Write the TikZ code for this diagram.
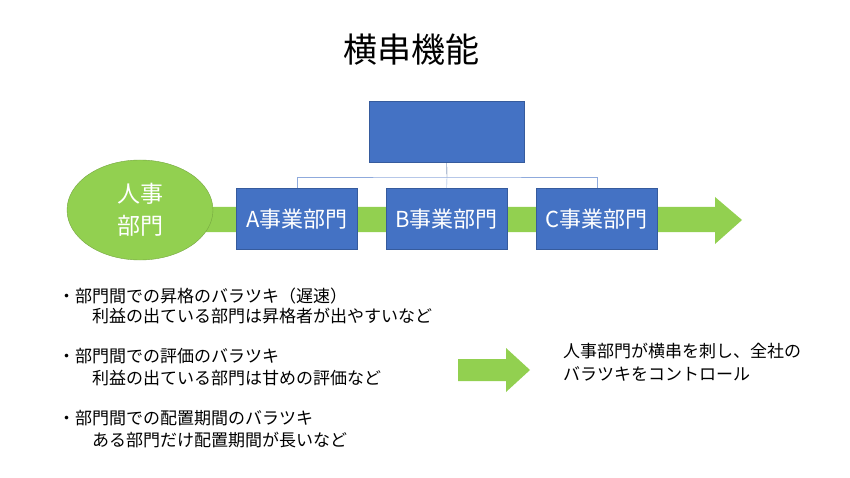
\documentclass[tikz,border=0pt]{standalone}
\usepackage{fontspec}
\setmainfont{Noto Sans CJK JP}
\usetikzlibrary{shapes.geometric}
\definecolor{bl}{HTML}{4472C4}
\definecolor{gr}{HTML}{92D050}
\definecolor{ln}{HTML}{8FAADC}
\begin{document}
\begin{tikzpicture}[x=1pt,y=-1pt,
 box/.style={draw=bl!80!black,fill=bl,text=white,minimum width=121pt,minimum height=61pt,inner sep=0pt,font=\fontsize{22}{26}\selectfont,anchor=north west},
 txt/.style={anchor=west,inner sep=0pt,font=\fontsize{17}{20}\selectfont}]
\useasboundingbox (0,0) rectangle (850,478);
\fill[white] (0,0) rectangle (850,478);
\node[font=\fontsize{34}{38}\selectfont] (title) at (411,50) {横串機能};
\fill[gr] (200,207) -- (715,207) -- (715,197) -- (742,220) -- (715,244) -- (715,232) -- (200,232) -- cycle;
\node[box,minimum width=155pt] (top) at (369,101) {};
\node[box] (a) at (236,188) {A事業部門};
\node[box] (b) at (386,188) {B事業部門};
\node[box] (c) at (536,188) {C事業部門};
\coordinate (j) at (447,177);
\draw[bl!70!black] (top.south) -- (j);
\draw[ln] (a.north) |- (j) -| (c.north);
\draw[ln] (j) -- (b.north);
\node[ellipse,draw=gr!80!black,fill=gr,text=white,minimum width=146pt,minimum height=100pt,align=center,font=\fontsize{23}{32}\selectfont] (hr) at (140,210) {人事\\部門};
\node[txt] (t1) at (58,296) {・部門間での昇格のバラツキ（遅速）};
\node[txt] (t2) at (92,316) {利益の出ている部門は昇格者が出やすいなど};
\node[txt] (t3) at (58,356) {・部門間での評価のバラツキ};
\node[txt] (t4) at (92,378) {利益の出ている部門は甘めの評価など};
\node[txt] (t5) at (58,418) {・部門間での配置期間のバラツキ};
\node[txt] (t6) at (92,440) {ある部門だけ配置期間が長いなど};
\fill[gr] (458,359) -- (506,359) -- (506,348) -- (530,370) -- (506,392) -- (506,381) -- (458,381) -- cycle;
\node[txt,align=left,anchor=north west,font=\fontsize{17}{23}\selectfont] (t7) at (563,343) {人事部門が横串を刺し、全社の\\バラツキをコントロール};
\end{tikzpicture}
\end{document}
